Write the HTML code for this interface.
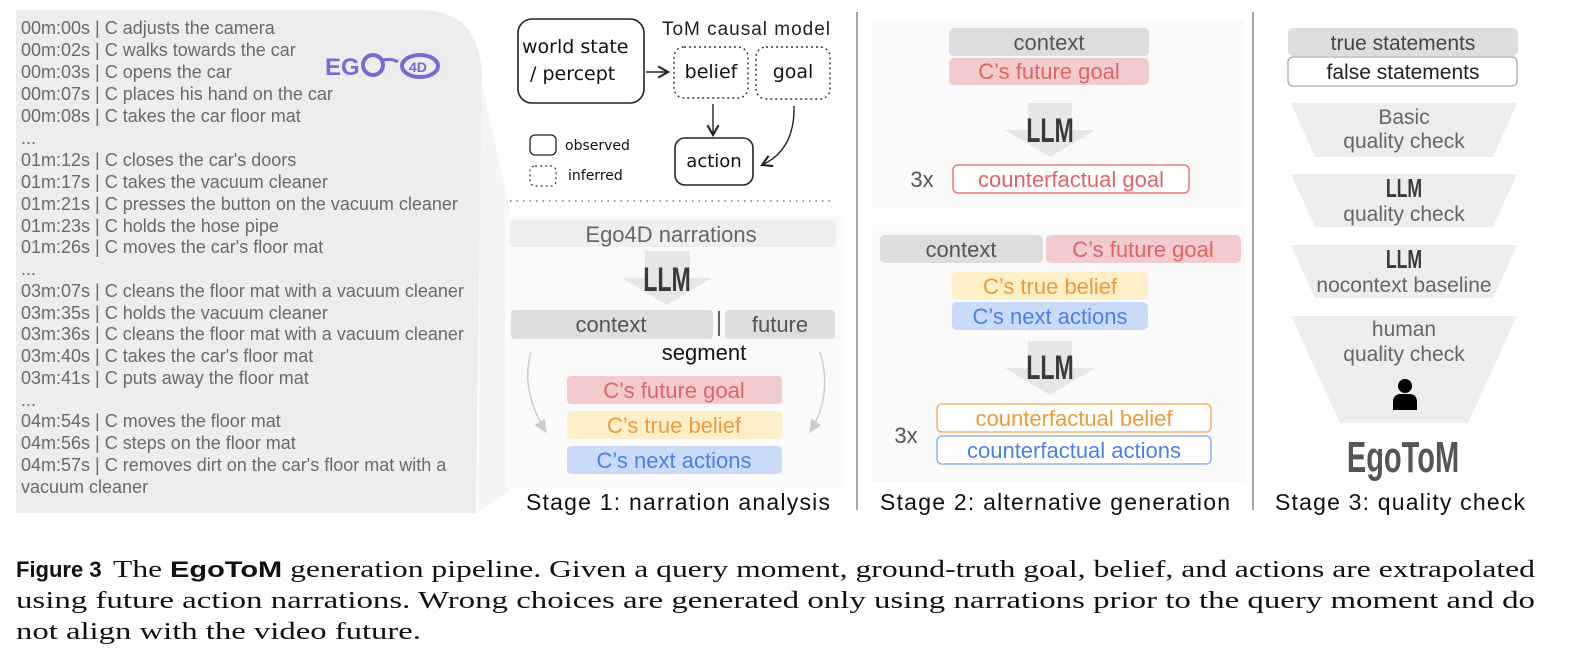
<!DOCTYPE html>
<html><head><meta charset="utf-8"><style>
html,body{margin:0;padding:0;background:#fff}
svg{display:block}
text{font-family:"Liberation Sans",sans-serif}
.n{fill:#6a6a6a;font-size:18px}
.llm{font-family:"Liberation Sans",sans-serif;font-weight:bold;fill:#3a3a3a}
.hand{font-family:"DejaVu Sans",sans-serif;fill:#111}
.serif{font-family:"Liberation Serif",serif;font-size:24px;fill:#111}
</style></head><body>
<svg width="1572" height="672" viewBox="0 0 1572 672" xmlns="http://www.w3.org/2000/svg">
<defs>
<marker id="ah" markerWidth="10" markerHeight="10" refX="8" refY="5" orient="auto"><path d="M1,1 L8,5 L1,9" fill="none" stroke="#222" stroke-width="1.5"/></marker>
<marker id="ahg" markerWidth="10" markerHeight="10" refX="8" refY="5" orient="auto"><path d="M0,1 L9,5 L0,9 Z" fill="#ccc"/></marker>
</defs>
<path d="M482,80 Q482,10 420,10 L16,10 L16,513 L476,513 Z" fill="#ededed"/>
<path d="M481,80 L510,210 L510,490 L478,513 Z" fill="#f5f5f5"/>
<g class="n">
<text x="21" y="34">00m:00s | C adjusts the camera</text>
<text x="21" y="56">00m:02s | C walks towards the car</text>
<text x="21" y="78">00m:03s | C opens the car</text>
<text x="21" y="100">00m:07s | C places his hand on the car</text>
<text x="21" y="122">00m:08s | C takes the car floor mat</text>
<text x="21" y="144">...</text>
<text x="21" y="166">01m:12s | C closes the car's doors</text>
<text x="21" y="188">01m:17s | C takes the vacuum cleaner</text>
<text x="21" y="210">01m:21s | C presses the button on the vacuum cleaner</text>
<text x="21" y="232">01m:23s | C holds the hose pipe</text>
<text x="21" y="253">01m:26s | C moves the car's floor mat</text>
<text x="21" y="275">...</text>
<text x="21" y="297">03m:07s | C cleans the floor mat with a vacuum cleaner</text>
<text x="21" y="319">03m:35s | C holds the vacuum cleaner</text>
<text x="21" y="340">03m:36s | C cleans the floor mat with a vacuum cleaner</text>
<text x="21" y="362">03m:40s | C takes the car's floor mat</text>
<text x="21" y="384">03m:41s | C puts away the floor mat</text>
<text x="21" y="406">...</text>
<text x="21" y="427">04m:54s | C moves the floor mat</text>
<text x="21" y="449">04m:56s | C steps on the floor mat</text>
<text x="21" y="471">04m:57s | C removes dirt on the car's floor mat with a</text>
<text x="21" y="493">vacuum cleaner</text>
</g>
<text x="325" y="75" font-size="24" font-weight="bold" fill="#7b68d8">EG</text>
<circle cx="373" cy="65" r="10" fill="none" stroke="#7b68d8" stroke-width="4"/>
<path d="M383,60 Q392,58 398,62" fill="none" stroke="#7b68d8" stroke-width="3"/>
<ellipse cx="420" cy="66" rx="18" ry="11" fill="none" stroke="#7b68d8" stroke-width="4"/>
<text x="409" y="72" font-size="14" font-weight="bold" fill="#7b68d8">4D</text>

<rect x="518" y="19" width="126" height="84" rx="14" fill="none" stroke="#222" stroke-width="1.6"/>
<text class="hand" x="522" y="53" font-size="19">world state</text>
<text class="hand" x="530" y="80" font-size="19">/ percept</text>
<text x="662" y="35" font-size="19" fill="#222" textLength="168">ToM causal model</text>
<rect x="674" y="47" width="74" height="51" rx="10" fill="none" stroke="#333" stroke-width="1.4" stroke-dasharray="2,3"/>
<text class="hand" x="711" y="78" font-size="19" text-anchor="middle">belief</text>
<rect x="756" y="47" width="74" height="52" rx="10" fill="none" stroke="#333" stroke-width="1.4" stroke-dasharray="2,3"/>
<text class="hand" x="793" y="78" font-size="19" text-anchor="middle">goal</text>
<line x1="646" y1="72" x2="668" y2="72" stroke="#222" stroke-width="1.4" marker-end="url(#ah)"/>
<line x1="713" y1="104" x2="713" y2="135" stroke="#222" stroke-width="1.4" marker-end="url(#ah)"/>
<path d="M794,106 Q795,150 762,165" fill="none" stroke="#222" stroke-width="1.4" marker-end="url(#ah)"/>
<rect x="675" y="138" width="78" height="47" rx="10" fill="none" stroke="#222" stroke-width="1.6"/>
<text class="hand" x="714" y="167" font-size="18" text-anchor="middle">action</text>
<rect x="530" y="135" width="26" height="20" rx="5" fill="none" stroke="#222" stroke-width="1.3"/>
<text class="hand" x="565" y="150" font-size="14">observed</text>
<rect x="530" y="166" width="26" height="20" rx="5" fill="none" stroke="#333" stroke-width="1.2" stroke-dasharray="2,3"/>
<text class="hand" x="568" y="180" font-size="14">inferred</text>
<line x1="510" y1="201" x2="834" y2="201" stroke="#777" stroke-width="1.6" stroke-dasharray="1.5,5"/>

<rect x="505" y="215" width="339" height="273" fill="#fafafa"/>
<rect x="510" y="220" width="326" height="27" rx="4" fill="#eeeeee"/>
<text x="671" y="242" font-size="22" fill="#666" text-anchor="middle">Ego4D narrations</text>
<path d="M645,251 L690,251 L690,278 L712,278 L667,305 L622,278 L645,278 Z" fill="#e6e6e6"/>
<text class="llm" x="667" y="291" font-size="34" text-anchor="middle" transform="translate(667,0) scale(0.68,1) translate(-667,0)">LLM</text>
<rect x="511" y="310" width="202" height="29" rx="4" fill="#dddddd"/>
<text x="611" y="332" font-size="22" fill="#555" text-anchor="middle">context</text>
<line x1="719" y1="311" x2="719" y2="336" stroke="#333" stroke-width="1.5"/>
<rect x="725" y="310" width="110" height="29" rx="4" fill="#dddddd"/>
<text x="780" y="332" font-size="22" fill="#555" text-anchor="middle">future</text>
<text x="704" y="360" font-size="22" fill="#111" text-anchor="middle">segment</text>
<path d="M531,352 Q520,390 546,432" fill="none" stroke="#ccc" stroke-width="1.5" marker-end="url(#ahg)"/>
<path d="M820,352 Q833,395 810,432" fill="none" stroke="#ccc" stroke-width="1.5" marker-end="url(#ahg)"/>
<rect x="567" y="376" width="215" height="28" rx="4" fill="#f2cbcc"/>
<text x="674" y="398" font-size="22" fill="#e06466" text-anchor="middle">C’s future goal</text>
<rect x="567" y="411" width="215" height="28" rx="4" fill="#fdefc8"/>
<text x="674" y="433" font-size="22" fill="#ef9a3a" text-anchor="middle">C’s true belief</text>
<rect x="567" y="446" width="215" height="28" rx="4" fill="#c9dbf7"/>
<text x="674" y="468" font-size="22" fill="#4a80e8" text-anchor="middle">C’s next actions</text>
<text x="526" y="510" font-size="23" fill="#111" textLength="304">Stage 1: narration analysis</text>

<line x1="857" y1="12" x2="857" y2="510" stroke="#888" stroke-width="1.5"/>
<line x1="1253" y1="12" x2="1253" y2="510" stroke="#888" stroke-width="1.5"/>

<rect x="872" y="20" width="372" height="188" fill="#fafafa"/>
<rect x="949" y="28" width="200" height="28" rx="5" fill="#dddddd"/>
<text x="1049" y="50" font-size="22" fill="#555" text-anchor="middle">context</text>
<rect x="949" y="58" width="200" height="27" rx="5" fill="#f2cbcc"/>
<text x="1049" y="79" font-size="22" fill="#e06466" text-anchor="middle">C’s future goal</text>
<path d="M1028,103 L1072,103 L1072,130 L1095,130 L1050,157 L1005,130 L1028,130 Z" fill="#e6e6e6"/>
<text class="llm" x="1050" y="142" font-size="34" text-anchor="middle" transform="translate(1050,0) scale(0.68,1) translate(-1050,0)">LLM</text>
<text x="922" y="187" font-size="22" fill="#555" text-anchor="middle">3x</text>
<rect x="953" y="165" width="236" height="28" rx="5" fill="#fff" stroke="#e57b7d" stroke-width="1.5"/>
<text x="1071" y="187" font-size="22" fill="#e06466" text-anchor="middle">counterfactual goal</text>
<rect x="872" y="225" width="373" height="257" fill="#fafafa"/>
<rect x="880" y="235" width="163" height="28" rx="5" fill="#dddddd"/>
<text x="961" y="257" font-size="22" fill="#555" text-anchor="middle">context</text>
<rect x="1046" y="235" width="195" height="28" rx="5" fill="#f2cbcc"/>
<text x="1143" y="257" font-size="22" fill="#e06466" text-anchor="middle">C’s future goal</text>
<rect x="952" y="272" width="196" height="28" rx="5" fill="#fdefc8"/>
<text x="1050" y="294" font-size="22" fill="#ef9a3a" text-anchor="middle">C’s true belief</text>
<rect x="952" y="302" width="196" height="28" rx="5" fill="#c9dbf7"/>
<text x="1050" y="324" font-size="22" fill="#4a80e8" text-anchor="middle">C’s next actions</text>
<path d="M1028,341 L1072,341 L1072,368 L1095,368 L1050,395 L1005,368 L1028,368 Z" fill="#e6e6e6"/>
<text class="llm" x="1050" y="379" font-size="34" text-anchor="middle" transform="translate(1050,0) scale(0.68,1) translate(-1050,0)">LLM</text>
<rect x="937" y="404" width="274" height="28" rx="5" fill="#fff" stroke="#f2b26a" stroke-width="1.5"/>
<text x="1074" y="426" font-size="22" fill="#ef9a3a" text-anchor="middle">counterfactual belief</text>
<rect x="937" y="436" width="274" height="28" rx="5" fill="#fff" stroke="#8fb3f0" stroke-width="1.5"/>
<text x="1074" y="458" font-size="22" fill="#4a80e8" text-anchor="middle">counterfactual actions</text>
<text x="906" y="443" font-size="22" fill="#555" text-anchor="middle">3x</text>
<text x="880" y="510" font-size="23" fill="#111" textLength="350">Stage 2: alternative generation</text>

<rect x="1288" y="28" width="230" height="28" rx="5" fill="#dddddd"/>
<text x="1403" y="50" font-size="21" fill="#444" text-anchor="middle">true statements</text>
<rect x="1288" y="57" width="229" height="29" rx="5" fill="#fff" stroke="#aaa" stroke-width="1.3"/>
<text x="1403" y="79" font-size="21" fill="#222" text-anchor="middle">false statements</text>
<path d="M1291,103 L1517,103 L1493,157 L1315,157 Z" fill="#ededed"/>
<text x="1404" y="124" font-size="21" fill="#666" text-anchor="middle">Basic</text>
<text x="1404" y="148" font-size="21" fill="#666" text-anchor="middle">quality check</text>
<path d="M1291,174 L1517,174 L1493,227 L1315,227 Z" fill="#ededed"/>
<text class="llm" x="1404" y="197" font-size="26" text-anchor="middle" transform="translate(1404,0) scale(0.68,1) translate(-1404,0)">LLM</text>
<text x="1404" y="221" font-size="21" fill="#666" text-anchor="middle">quality check</text>
<path d="M1291,245 L1517,245 L1493,298 L1315,298 Z" fill="#ededed"/>
<text class="llm" x="1404" y="268" font-size="26" text-anchor="middle" transform="translate(1404,0) scale(0.68,1) translate(-1404,0)">LLM</text>
<text x="1404" y="292" font-size="21" fill="#666" text-anchor="middle">nocontext baseline</text>
<path d="M1291,316 L1517,316 L1468,423 L1340,423 Z" fill="#ededed"/>
<text x="1404" y="336" font-size="21" fill="#666" text-anchor="middle">human</text>
<text x="1404" y="361" font-size="21" fill="#666" text-anchor="middle">quality check</text>
<circle cx="1405" cy="386" r="7" fill="#000"/>
<path d="M1393,410 L1393,402 Q1393,394 1401,394 L1409,394 Q1417,394 1417,402 L1417,410 Z" fill="#000"/>
<text x="1403" y="472" font-size="44" font-weight="bold" text-anchor="middle" transform="translate(1403,0) scale(0.66,1) translate(-1403,0)" fill="#555">EgoToM</text>
<text x="1275" y="510" font-size="23" fill="#111" textLength="250">Stage 3: quality check</text>

<text x="16" y="577" font-size="22" font-weight="bold" fill="#111">Figure 3</text>
<text class="serif" x="113" y="577" textLength="1422" lengthAdjust="spacingAndGlyphs">The <tspan font-family="Liberation Sans" font-weight="bold" font-size="22">EgoToM</tspan> generation pipeline. Given a query moment, ground-truth goal, belief, and actions are extrapolated</text>
<text class="serif" x="16" y="608" textLength="1519" lengthAdjust="spacingAndGlyphs">using future action narrations. Wrong choices are generated only using narrations prior to the query moment and do</text>
<text class="serif" x="16" y="639" textLength="405" lengthAdjust="spacingAndGlyphs">not align with the video future.</text>
</svg>
</body></html>
